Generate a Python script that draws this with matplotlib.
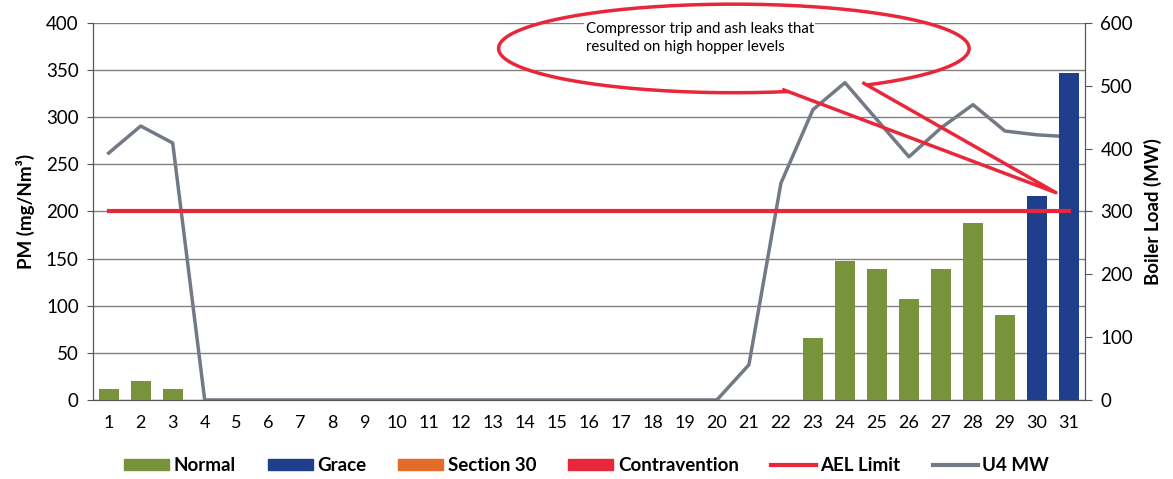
import matplotlib.pyplot as plt
import numpy as np
from matplotlib.patches import Patch
from matplotlib.lines import Line2D

plt.rcParams['font.family'] = ['Lato', 'DejaVu Sans']

days = list(range(1, 32))
normal = [12, 20, 12, 0, 0, 0, 0, 0, 0, 0, 0, 0, 0, 0, 0, 0, 0, 0, 0, 0,
          0, 0, 66, 147, 139, 107, 139, 188, 90, 0, 0]
grace = [0] * 29 + [216, 347]
section30 = [0] * 31
contravention = [0] * 31
ael_limit = [200] * 31
u4_mw = [393, 436, 409, 0, 0, 0, 0, 0, 0, 0, 0, 0, 0, 0, 0, 0, 0, 0, 0, 0,
         56, 345, 462, 505, 446, 387, 433, 470, 428, 422, 419]

green = '#77933c'
blue = '#1f3f8c'
orange = '#e46c2a'
red = '#e8283a'
gray = '#737985'

fig = plt.figure(figsize=(11.73, 4.79), dpi=100)
ax = fig.add_axes([0.079, 0.165, 0.846, 0.787])
ax2 = ax.twinx()

ax.set_zorder(2)
ax.patch.set_visible(False)

w = 0.62
ax.bar(days, normal, width=w, color=green, zorder=3)
ax.bar(days, grace, width=w, color=blue, zorder=3)
ax.bar(days, section30, width=w, color=orange, zorder=3)
ax.bar(days, contravention, width=w, color=red, zorder=3)
ax.plot(days, ael_limit, color=red, lw=3, zorder=4)
ax2.plot(days, u4_mw, color=gray, lw=2.5)

ax.set_xlim(0.5, 31.5)
ax.set_ylim(0, 400)
ax.set_yticks(np.arange(0, 401, 50))
ax2.set_ylim(0, 600)
ax2.set_yticks(np.arange(0, 601, 100))
ax.set_xticks(days)

ax.grid(axis='y', color='#808080', lw=1, zorder=0)
ax.set_axisbelow(True)
for a in (ax, ax2):
    a.spines['top'].set_visible(False)
    a.spines['left'].set_color('#555555')
    a.spines['right'].set_color('#555555')
    a.spines['bottom'].set_color('#555555')
ax.tick_params(axis='y', labelsize=13.5, length=4, color='#555555', pad=6)
ax.tick_params(axis='x', labelsize=13, length=0, pad=11)
ax2.tick_params(axis='y', labelsize=13.5, length=5, color='#555555', pad=6)

ax.set_ylabel('PM (mg/Nm³)', fontsize=13.5, fontweight='bold', labelpad=8)
ax2.set_ylabel('Boiler Load (MW)', fontsize=13.5, fontweight='bold', labelpad=8)

# callout annotation
cx, cy, a_, b_ = 20.53, 373, 7.35, 47
t = np.deg2rad(np.linspace(-55, 283, 300))
ax.plot(cx + a_ * np.cos(t), cy + b_ * np.sin(t), color=red, lw=2.5,
        clip_on=False, zorder=6)
ax.plot([22.09, 30.59, 24.59], [329, 220, 336], color=red, lw=2.5,
        clip_on=False, zorder=6)
ax.text(15.9, 384, 'Compressor trip and ash leaks that\nresulted on high hopper levels',
        fontsize=10.8, va='center', ha='left', linespacing=1.4, zorder=7,
        bbox=dict(facecolor='white', edgecolor='none', pad=1))

handles = [Patch(color=green), Patch(color=blue), Patch(color=orange), Patch(color=red),
           Line2D([], [], color=red, lw=3), Line2D([], [], color=gray, lw=3)]
labels = ['Normal', 'Grace', 'Section 30', 'Contravention', 'AEL Limit', 'U4 MW']
fig.legend(handles, labels, loc='center', bbox_to_anchor=(0.5, 0.028), ncol=6,
           frameon=False, handlelength=2.4, handleheight=0.6,
           columnspacing=1.7, handletextpad=0.25, prop={'weight': 'bold', 'size': 13.5})

fig.savefig('out.png', dpi=100)
